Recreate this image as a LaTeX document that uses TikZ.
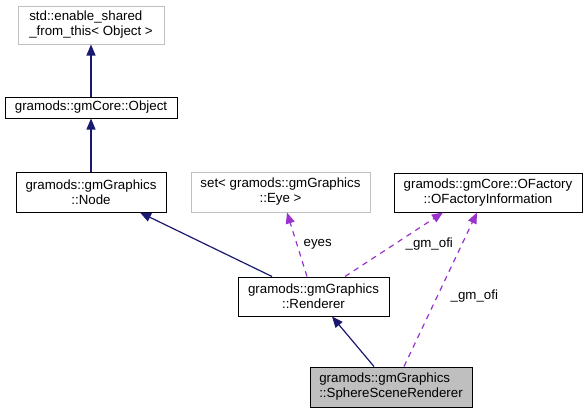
\documentclass[tikz,border=0pt]{standalone}
\usepackage{fontspec}
\setmainfont{Liberation Sans}
\usetikzlibrary{arrows.meta}
\definecolor{inheritblue}{HTML}{191970}
\definecolor{usepurple}{HTML}{9A32CD}
\definecolor{boxgray}{HTML}{BFBFBF}

\begin{document}
\begin{tikzpicture}[
      x=1pt, y=-1pt,
      every node/.style={font=\fontsize{13.3}{15}\selectfont, inner sep=0pt},
      cls/.style={draw=black, line width=1pt, minimum height=40pt, align=center},
      extcls/.style={cls, draw=boxgray},
      inherit/.style={draw=inheritblue, line width=1.2pt, -{Triangle[length=11pt,width=9pt]}},
      usage/.style={draw=usepurple, line width=1.2pt, dash pattern=on 5.5pt off 5pt,
                    -{Triangle[length=11pt,width=9pt]}}
    ]
    \useasboundingbox (0,0) rectangle (588,413);
    % Draw the classes.
    \node[extcls, minimum width=146pt, minimum height=38pt, align=left] (enable) at (91,25)
      {std::enable\_shared\\\_from\_this< Object >};
    \node[cls, minimum width=172pt, minimum height=21pt] (object) at (91,107.5) {gramods::gmCore::Object};
    \node[cls, minimum width=150pt] (node) at (91,192) {gramods::gmGraphics\\::Node};
    \node[extcls, minimum width=179pt] (eyeset) at (280.5,192) {set< gramods::gmGraphics\\::Eye >};
    \node[cls, minimum width=188pt, minimum height=39pt] (ofi) at (488,192.5)
      {gramods::gmCore::OFactory\\::OFactoryInformation};
    \node[cls, minimum width=151pt, minimum height=39pt] (renderer) at (313.5,296.5)
      {gramods::gmGraphics\\::Renderer};
    \node[cls, fill=boxgray, minimum width=162pt, align=left] (sphere) at (391,387)
      {gramods::gmGraphics\\::SphereSceneRenderer};
    % Draw the inheritance.
    \draw[inherit] (object.north) -- (enable.south);
    \draw[inherit] (node.north) -- (object.south);
    \draw[inherit] ([xshift=-41.5pt]renderer.north) -- ([xshift=49pt]node.south);
    \draw[inherit] ([xshift=-17pt]sphere.north) -- ([xshift=18.5pt]renderer.south);
    % Draw the usage relations.
    \draw[usage] ([xshift=-6.5pt]renderer.north) -- ([xshift=6.5pt]eyeset.south)
      node[midway, right, xshift=6pt] (eyeslbl) {eyes};
    \draw[usage] ([xshift=31.5pt]renderer.north) -- ([xshift=-45pt]ofi.south)
      node[midway, right, xshift=11pt] (ofilbla) {\_gm\_ofi};
    \draw[usage] ([xshift=13pt]sphere.north) -- ([xshift=-11pt]ofi.south)
      node[pos=0.46, right, xshift=12.5pt] (ofilblb) {\_gm\_ofi};
\end{tikzpicture}
\end{document}
